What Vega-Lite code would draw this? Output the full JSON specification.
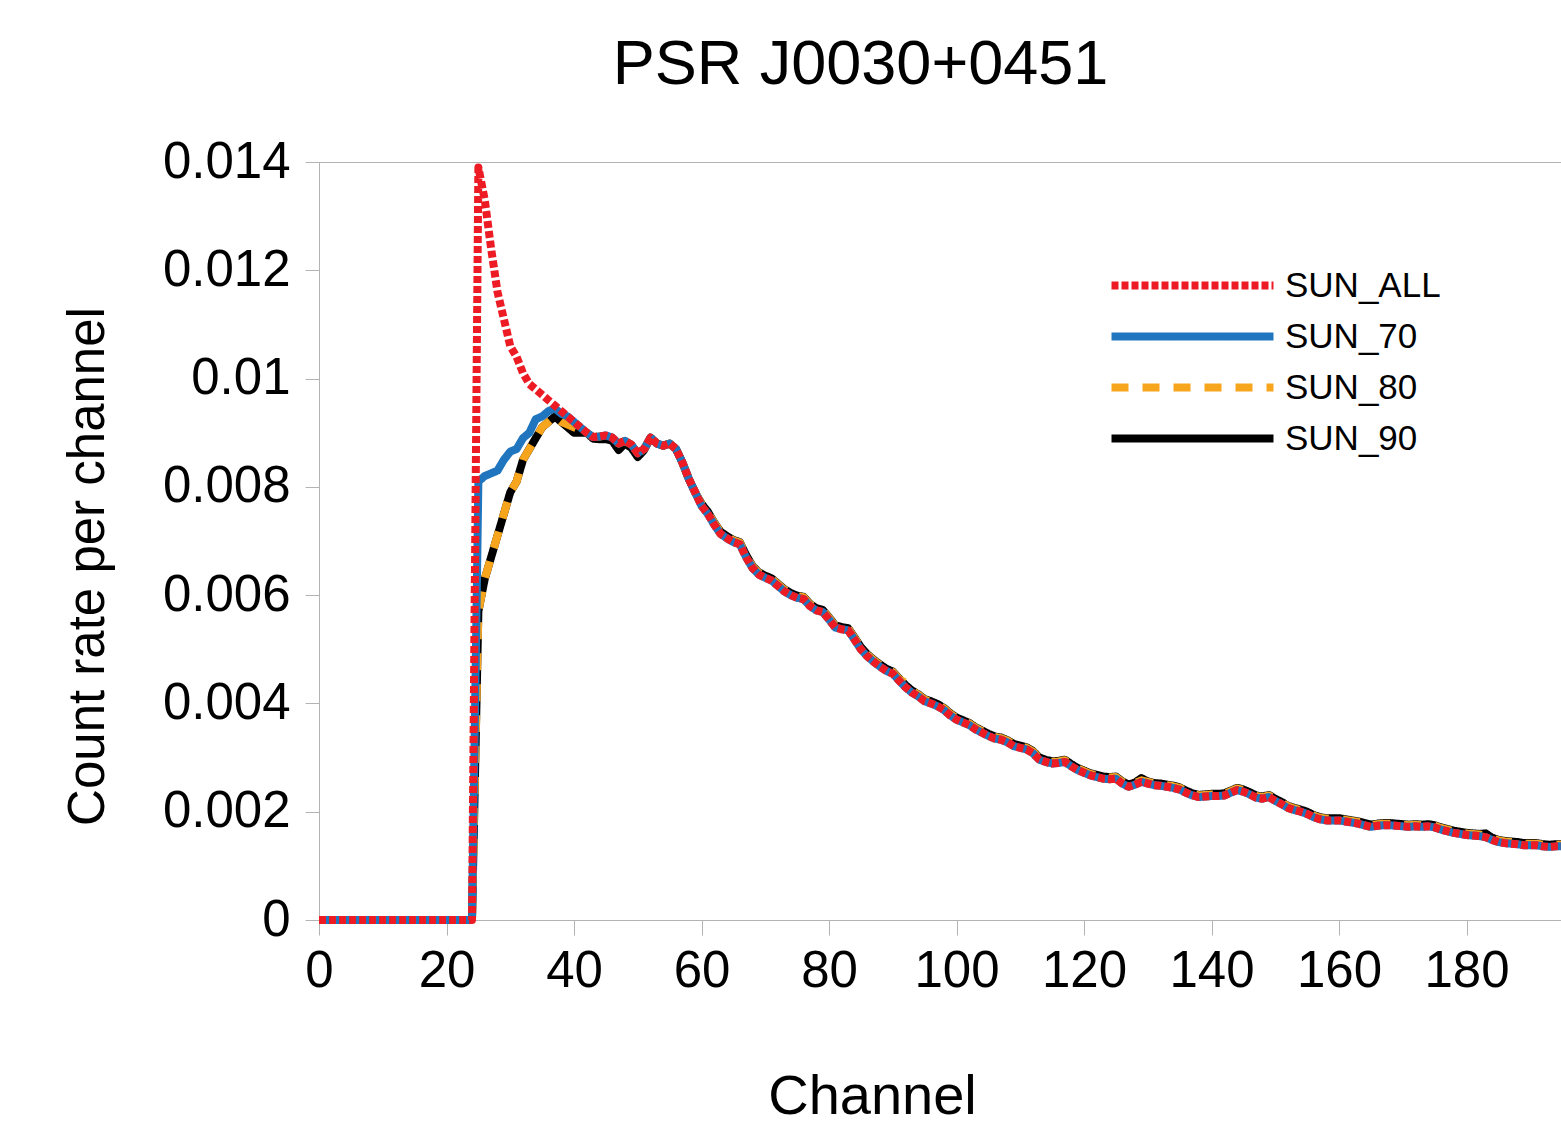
{
  "$schema": "https://vega.github.io/schema/vega-lite/v6.json",
  "width": 1275,
  "height": 758,
  "autosize": {"type": "none"},
  "padding": {"left": 319, "top": 162, "right": 0, "bottom": 215},
  "background": "white",
  "title": {
    "text": "PSR J0030+0451",
    "font": "Liberation Sans",
    "fontSize": 63,
    "fontWeight": "normal",
    "color": "#000000",
    "anchor": "middle",
    "frame": "group",
    "baseline": "alphabetic",
    "dx": -96,
    "offset": -11
  },
  "data": {
    "values": [
      {"Channel": 0, "SUN_ALL": 0, "SUN_70": 0, "SUN_80": 0, "SUN_90": 0},
      {"Channel": 24, "SUN_ALL": 0, "SUN_70": 0, "SUN_80": 0, "SUN_90": 0},
      {"Channel": 25, "SUN_ALL": 0.0139, "SUN_70": 0.0081, "SUN_80": 0.0057, "SUN_90": 0.0057},
      {"Channel": 26, "SUN_ALL": 0.0133, "SUN_70": 0.0082, "SUN_80": 0.0063, "SUN_90": 0.0063},
      {"Channel": 27, "SUN_ALL": 0.0124, "SUN_70": 0.00825, "SUN_80": 0.0067, "SUN_90": 0.0067},
      {"Channel": 28, "SUN_ALL": 0.0116, "SUN_70": 0.0083, "SUN_80": 0.0071, "SUN_90": 0.0071},
      {"Channel": 29, "SUN_ALL": 0.0111, "SUN_70": 0.0085, "SUN_80": 0.0075, "SUN_90": 0.0075},
      {"Channel": 30, "SUN_ALL": 0.0106, "SUN_70": 0.00865, "SUN_80": 0.0079, "SUN_90": 0.0079},
      {"Channel": 31, "SUN_ALL": 0.0104, "SUN_70": 0.0087, "SUN_80": 0.0081, "SUN_90": 0.0081},
      {"Channel": 32, "SUN_ALL": 0.0101, "SUN_70": 0.0089, "SUN_80": 0.0085, "SUN_90": 0.0085},
      {"Channel": 33, "SUN_ALL": 0.0099, "SUN_70": 0.009, "SUN_80": 0.0087, "SUN_90": 0.0087},
      {"Channel": 34, "SUN_ALL": 0.0098, "SUN_70": 0.00925, "SUN_80": 0.0089, "SUN_90": 0.0089},
      {"Channel": 35, "SUN_ALL": 0.0097, "SUN_70": 0.0093, "SUN_80": 0.0091, "SUN_90": 0.0091},
      {"Channel": 36, "SUN_ALL": 0.0096, "SUN_70": 0.0094, "SUN_80": 0.0092, "SUN_90": 0.0092},
      {"Channel": 37, "SUN_ALL": 0.0095, "SUN_70": 0.00945, "SUN_80": 0.0093, "SUN_90": 0.0093},
      {"Channel": 38, "SUN_ALL": 0.0094, "SUN_70": 0.00935, "SUN_80": 0.0092, "SUN_90": 0.0092},
      {"Channel": 39, "SUN_ALL": 0.0093, "SUN_70": 0.0093, "SUN_80": 0.00915, "SUN_90": 0.0091},
      {"Channel": 40, "SUN_ALL": 0.0092, "SUN_70": 0.0092, "SUN_80": 0.0091, "SUN_90": 0.009},
      {"Channel": 41, "SUN_ALL": 0.0091, "SUN_70": 0.0091, "SUN_80": 0.00905, "SUN_90": 0.009},
      {"Channel": 42, "SUN_ALL": 0.009, "SUN_70": 0.009, "SUN_80": 0.009, "SUN_90": 0.009},
      {"Channel": 43, "SUN_ALL": 0.00892, "SUN_70": 0.00892, "SUN_80": 0.00892, "SUN_90": 0.00889},
      {"Channel": 44, "SUN_ALL": 0.00893, "SUN_70": 0.00893, "SUN_80": 0.00893, "SUN_90": 0.00888},
      {"Channel": 45, "SUN_ALL": 0.00895, "SUN_70": 0.00895, "SUN_80": 0.00895, "SUN_90": 0.00888},
      {"Channel": 46, "SUN_ALL": 0.00891, "SUN_70": 0.00891, "SUN_80": 0.00891, "SUN_90": 0.00885},
      {"Channel": 47, "SUN_ALL": 0.0088, "SUN_70": 0.0088, "SUN_80": 0.0088, "SUN_90": 0.00868},
      {"Channel": 48, "SUN_ALL": 0.00885, "SUN_70": 0.00885, "SUN_80": 0.00885, "SUN_90": 0.0088},
      {"Channel": 49, "SUN_ALL": 0.00878, "SUN_70": 0.00878, "SUN_80": 0.00878, "SUN_90": 0.00872},
      {"Channel": 50, "SUN_ALL": 0.00862, "SUN_70": 0.00862, "SUN_80": 0.00862, "SUN_90": 0.00855},
      {"Channel": 51, "SUN_ALL": 0.0087, "SUN_70": 0.0087, "SUN_80": 0.0087, "SUN_90": 0.00868},
      {"Channel": 52, "SUN_ALL": 0.00891, "SUN_70": 0.00891, "SUN_80": 0.00891, "SUN_90": 0.00891},
      {"Channel": 53, "SUN_ALL": 0.0088, "SUN_70": 0.0088, "SUN_80": 0.0088, "SUN_90": 0.0088},
      {"Channel": 54, "SUN_ALL": 0.00876, "SUN_70": 0.00876, "SUN_80": 0.00876, "SUN_90": 0.00876},
      {"Channel": 55, "SUN_ALL": 0.0088, "SUN_70": 0.0088, "SUN_80": 0.0088, "SUN_90": 0.0088},
      {"Channel": 56, "SUN_ALL": 0.0087, "SUN_70": 0.0087, "SUN_80": 0.0087, "SUN_90": 0.0087},
      {"Channel": 57, "SUN_ALL": 0.00845, "SUN_70": 0.00845, "SUN_80": 0.00845, "SUN_90": 0.00845},
      {"Channel": 58, "SUN_ALL": 0.00815, "SUN_70": 0.00815, "SUN_80": 0.00815, "SUN_90": 0.00815},
      {"Channel": 59, "SUN_ALL": 0.0079, "SUN_70": 0.0079, "SUN_80": 0.0079, "SUN_90": 0.0079},
      {"Channel": 60, "SUN_ALL": 0.00765, "SUN_70": 0.00765, "SUN_80": 0.00768, "SUN_90": 0.00769},
      {"Channel": 61, "SUN_ALL": 0.0075, "SUN_70": 0.0075, "SUN_80": 0.00753, "SUN_90": 0.00754},
      {"Channel": 62, "SUN_ALL": 0.0073, "SUN_70": 0.0073, "SUN_80": 0.00733, "SUN_90": 0.00734},
      {"Channel": 63, "SUN_ALL": 0.00713, "SUN_70": 0.00713, "SUN_80": 0.00716, "SUN_90": 0.00717},
      {"Channel": 64, "SUN_ALL": 0.00705, "SUN_70": 0.00705, "SUN_80": 0.00708, "SUN_90": 0.00709},
      {"Channel": 65, "SUN_ALL": 0.00698, "SUN_70": 0.00698, "SUN_80": 0.00701, "SUN_90": 0.00702},
      {"Channel": 66, "SUN_ALL": 0.00694, "SUN_70": 0.00694, "SUN_80": 0.00697, "SUN_90": 0.00698},
      {"Channel": 67, "SUN_ALL": 0.0067, "SUN_70": 0.0067, "SUN_80": 0.00673, "SUN_90": 0.00674},
      {"Channel": 68, "SUN_ALL": 0.0065, "SUN_70": 0.0065, "SUN_80": 0.00653, "SUN_90": 0.00654},
      {"Channel": 69, "SUN_ALL": 0.00638, "SUN_70": 0.00638, "SUN_80": 0.00641, "SUN_90": 0.00642},
      {"Channel": 70, "SUN_ALL": 0.00632, "SUN_70": 0.00632, "SUN_80": 0.00635, "SUN_90": 0.00636},
      {"Channel": 71, "SUN_ALL": 0.00627, "SUN_70": 0.00627, "SUN_80": 0.0063, "SUN_90": 0.00631},
      {"Channel": 72, "SUN_ALL": 0.00617, "SUN_70": 0.00617, "SUN_80": 0.0062, "SUN_90": 0.00621},
      {"Channel": 73, "SUN_ALL": 0.00607, "SUN_70": 0.00607, "SUN_80": 0.0061, "SUN_90": 0.00611},
      {"Channel": 74, "SUN_ALL": 0.006, "SUN_70": 0.006, "SUN_80": 0.00603, "SUN_90": 0.00604},
      {"Channel": 75, "SUN_ALL": 0.00595, "SUN_70": 0.00595, "SUN_80": 0.00598, "SUN_90": 0.00599},
      {"Channel": 76, "SUN_ALL": 0.00593, "SUN_70": 0.00593, "SUN_80": 0.00596, "SUN_90": 0.00597},
      {"Channel": 77, "SUN_ALL": 0.0058, "SUN_70": 0.0058, "SUN_80": 0.00583, "SUN_90": 0.00584},
      {"Channel": 78, "SUN_ALL": 0.00572, "SUN_70": 0.00572, "SUN_80": 0.00575, "SUN_90": 0.00576},
      {"Channel": 79, "SUN_ALL": 0.00569, "SUN_70": 0.00569, "SUN_80": 0.00572, "SUN_90": 0.00573},
      {"Channel": 80, "SUN_ALL": 0.00555, "SUN_70": 0.00555, "SUN_80": 0.00558, "SUN_90": 0.00559},
      {"Channel": 81, "SUN_ALL": 0.0054, "SUN_70": 0.0054, "SUN_80": 0.00543, "SUN_90": 0.00544},
      {"Channel": 82, "SUN_ALL": 0.00537, "SUN_70": 0.00537, "SUN_80": 0.0054, "SUN_90": 0.00541},
      {"Channel": 83, "SUN_ALL": 0.00535, "SUN_70": 0.00535, "SUN_80": 0.00538, "SUN_90": 0.00539},
      {"Channel": 84, "SUN_ALL": 0.00518, "SUN_70": 0.00518, "SUN_80": 0.00521, "SUN_90": 0.00522},
      {"Channel": 85, "SUN_ALL": 0.005, "SUN_70": 0.005, "SUN_80": 0.00503, "SUN_90": 0.00504},
      {"Channel": 86, "SUN_ALL": 0.00487, "SUN_70": 0.00487, "SUN_80": 0.0049, "SUN_90": 0.00491},
      {"Channel": 87, "SUN_ALL": 0.00477, "SUN_70": 0.00477, "SUN_80": 0.0048, "SUN_90": 0.00481},
      {"Channel": 88, "SUN_ALL": 0.00468, "SUN_70": 0.00468, "SUN_80": 0.00471, "SUN_90": 0.00472},
      {"Channel": 89, "SUN_ALL": 0.0046, "SUN_70": 0.0046, "SUN_80": 0.00463, "SUN_90": 0.00464},
      {"Channel": 90, "SUN_ALL": 0.00455, "SUN_70": 0.00455, "SUN_80": 0.00458, "SUN_90": 0.00459},
      {"Channel": 91, "SUN_ALL": 0.00442, "SUN_70": 0.00442, "SUN_80": 0.00445, "SUN_90": 0.00446},
      {"Channel": 92, "SUN_ALL": 0.0043, "SUN_70": 0.0043, "SUN_80": 0.00438, "SUN_90": 0.00434},
      {"Channel": 93, "SUN_ALL": 0.0042, "SUN_70": 0.0042, "SUN_80": 0.00423, "SUN_90": 0.00424},
      {"Channel": 94, "SUN_ALL": 0.00413, "SUN_70": 0.00413, "SUN_80": 0.00416, "SUN_90": 0.00417},
      {"Channel": 95, "SUN_ALL": 0.00404, "SUN_70": 0.00404, "SUN_80": 0.00407, "SUN_90": 0.00408},
      {"Channel": 96, "SUN_ALL": 0.004, "SUN_70": 0.004, "SUN_80": 0.00403, "SUN_90": 0.00404},
      {"Channel": 97, "SUN_ALL": 0.00395, "SUN_70": 0.00395, "SUN_80": 0.00398, "SUN_90": 0.00399},
      {"Channel": 98, "SUN_ALL": 0.00388, "SUN_70": 0.00388, "SUN_80": 0.00391, "SUN_90": 0.00392},
      {"Channel": 99, "SUN_ALL": 0.00378, "SUN_70": 0.00378, "SUN_80": 0.00381, "SUN_90": 0.00382},
      {"Channel": 100, "SUN_ALL": 0.0037, "SUN_70": 0.0037, "SUN_80": 0.00373, "SUN_90": 0.00374},
      {"Channel": 101, "SUN_ALL": 0.00365, "SUN_70": 0.00365, "SUN_80": 0.00368, "SUN_90": 0.00369},
      {"Channel": 102, "SUN_ALL": 0.0036, "SUN_70": 0.0036, "SUN_80": 0.00363, "SUN_90": 0.00364},
      {"Channel": 103, "SUN_ALL": 0.00352, "SUN_70": 0.00352, "SUN_80": 0.00355, "SUN_90": 0.00356},
      {"Channel": 104, "SUN_ALL": 0.00346, "SUN_70": 0.00346, "SUN_80": 0.00349, "SUN_90": 0.0035},
      {"Channel": 105, "SUN_ALL": 0.0034, "SUN_70": 0.0034, "SUN_80": 0.00343, "SUN_90": 0.00344},
      {"Channel": 106, "SUN_ALL": 0.00335, "SUN_70": 0.00335, "SUN_80": 0.00338, "SUN_90": 0.00339},
      {"Channel": 107, "SUN_ALL": 0.00333, "SUN_70": 0.00333, "SUN_80": 0.00336, "SUN_90": 0.00337},
      {"Channel": 108, "SUN_ALL": 0.00328, "SUN_70": 0.00328, "SUN_80": 0.00331, "SUN_90": 0.00332},
      {"Channel": 109, "SUN_ALL": 0.00321, "SUN_70": 0.00321, "SUN_80": 0.00324, "SUN_90": 0.00325},
      {"Channel": 110, "SUN_ALL": 0.00318, "SUN_70": 0.00318, "SUN_80": 0.00321, "SUN_90": 0.00322},
      {"Channel": 111, "SUN_ALL": 0.00315, "SUN_70": 0.00315, "SUN_80": 0.00318, "SUN_90": 0.00319},
      {"Channel": 112, "SUN_ALL": 0.00308, "SUN_70": 0.00308, "SUN_80": 0.00311, "SUN_90": 0.00312},
      {"Channel": 113, "SUN_ALL": 0.00296, "SUN_70": 0.00296, "SUN_80": 0.00299, "SUN_90": 0.003},
      {"Channel": 114, "SUN_ALL": 0.00292, "SUN_70": 0.00292, "SUN_80": 0.00295, "SUN_90": 0.00296},
      {"Channel": 115, "SUN_ALL": 0.00289, "SUN_70": 0.00289, "SUN_80": 0.00292, "SUN_90": 0.00293},
      {"Channel": 116, "SUN_ALL": 0.0029, "SUN_70": 0.0029, "SUN_80": 0.00293, "SUN_90": 0.00294},
      {"Channel": 117, "SUN_ALL": 0.00292, "SUN_70": 0.00292, "SUN_80": 0.00295, "SUN_90": 0.00296},
      {"Channel": 118, "SUN_ALL": 0.00284, "SUN_70": 0.00284, "SUN_80": 0.00287, "SUN_90": 0.00288},
      {"Channel": 119, "SUN_ALL": 0.00277, "SUN_70": 0.00277, "SUN_80": 0.0028, "SUN_90": 0.00281},
      {"Channel": 120, "SUN_ALL": 0.00272, "SUN_70": 0.00272, "SUN_80": 0.00275, "SUN_90": 0.00276},
      {"Channel": 121, "SUN_ALL": 0.00267, "SUN_70": 0.00267, "SUN_80": 0.0027, "SUN_90": 0.00271},
      {"Channel": 122, "SUN_ALL": 0.00264, "SUN_70": 0.00264, "SUN_80": 0.00267, "SUN_90": 0.00268},
      {"Channel": 123, "SUN_ALL": 0.00261, "SUN_70": 0.00261, "SUN_80": 0.00264, "SUN_90": 0.00265},
      {"Channel": 124, "SUN_ALL": 0.0026, "SUN_70": 0.0026, "SUN_80": 0.00263, "SUN_90": 0.00264},
      {"Channel": 125, "SUN_ALL": 0.00261, "SUN_70": 0.00261, "SUN_80": 0.00264, "SUN_90": 0.00265},
      {"Channel": 126, "SUN_ALL": 0.00252, "SUN_70": 0.00252, "SUN_80": 0.00255, "SUN_90": 0.00256},
      {"Channel": 127, "SUN_ALL": 0.00246, "SUN_70": 0.00246, "SUN_80": 0.00249, "SUN_90": 0.0025},
      {"Channel": 128, "SUN_ALL": 0.0025, "SUN_70": 0.0025, "SUN_80": 0.00253, "SUN_90": 0.00254},
      {"Channel": 129, "SUN_ALL": 0.00255, "SUN_70": 0.00255, "SUN_80": 0.00258, "SUN_90": 0.00262},
      {"Channel": 130, "SUN_ALL": 0.00252, "SUN_70": 0.00252, "SUN_80": 0.00255, "SUN_90": 0.00256},
      {"Channel": 131, "SUN_ALL": 0.00249, "SUN_70": 0.00249, "SUN_80": 0.00252, "SUN_90": 0.00253},
      {"Channel": 132, "SUN_ALL": 0.00248, "SUN_70": 0.00248, "SUN_80": 0.00251, "SUN_90": 0.00252},
      {"Channel": 133, "SUN_ALL": 0.00246, "SUN_70": 0.00246, "SUN_80": 0.00249, "SUN_90": 0.0025},
      {"Channel": 134, "SUN_ALL": 0.00244, "SUN_70": 0.00244, "SUN_80": 0.00247, "SUN_90": 0.00248},
      {"Channel": 135, "SUN_ALL": 0.00241, "SUN_70": 0.00241, "SUN_80": 0.00244, "SUN_90": 0.00245},
      {"Channel": 136, "SUN_ALL": 0.00235, "SUN_70": 0.00235, "SUN_80": 0.00238, "SUN_90": 0.00239},
      {"Channel": 137, "SUN_ALL": 0.0023, "SUN_70": 0.0023, "SUN_80": 0.00233, "SUN_90": 0.00234},
      {"Channel": 138, "SUN_ALL": 0.00227, "SUN_70": 0.00227, "SUN_80": 0.0023, "SUN_90": 0.00231},
      {"Channel": 139, "SUN_ALL": 0.00228, "SUN_70": 0.00228, "SUN_80": 0.00231, "SUN_90": 0.00232},
      {"Channel": 140, "SUN_ALL": 0.00229, "SUN_70": 0.00229, "SUN_80": 0.00232, "SUN_90": 0.00233},
      {"Channel": 141, "SUN_ALL": 0.00229, "SUN_70": 0.00229, "SUN_80": 0.00232, "SUN_90": 0.00233},
      {"Channel": 142, "SUN_ALL": 0.0023, "SUN_70": 0.0023, "SUN_80": 0.00233, "SUN_90": 0.00234},
      {"Channel": 143, "SUN_ALL": 0.00235, "SUN_70": 0.00235, "SUN_80": 0.00238, "SUN_90": 0.00239},
      {"Channel": 144, "SUN_ALL": 0.0024, "SUN_70": 0.0024, "SUN_80": 0.00243, "SUN_90": 0.00244},
      {"Channel": 145, "SUN_ALL": 0.00237, "SUN_70": 0.00237, "SUN_80": 0.0024, "SUN_90": 0.00241},
      {"Channel": 146, "SUN_ALL": 0.00232, "SUN_70": 0.00232, "SUN_80": 0.00235, "SUN_90": 0.00236},
      {"Channel": 147, "SUN_ALL": 0.00226, "SUN_70": 0.00226, "SUN_80": 0.00229, "SUN_90": 0.0023},
      {"Channel": 148, "SUN_ALL": 0.00224, "SUN_70": 0.00224, "SUN_80": 0.00227, "SUN_90": 0.00228},
      {"Channel": 149, "SUN_ALL": 0.00227, "SUN_70": 0.00227, "SUN_80": 0.0023, "SUN_90": 0.00231},
      {"Channel": 150, "SUN_ALL": 0.0022, "SUN_70": 0.0022, "SUN_80": 0.00223, "SUN_90": 0.00224},
      {"Channel": 151, "SUN_ALL": 0.00214, "SUN_70": 0.00214, "SUN_80": 0.00217, "SUN_90": 0.00218},
      {"Channel": 152, "SUN_ALL": 0.00207, "SUN_70": 0.00207, "SUN_80": 0.0021, "SUN_90": 0.00211},
      {"Channel": 153, "SUN_ALL": 0.00203, "SUN_70": 0.00203, "SUN_80": 0.00206, "SUN_90": 0.00207},
      {"Channel": 154, "SUN_ALL": 0.002, "SUN_70": 0.002, "SUN_80": 0.00203, "SUN_90": 0.00204},
      {"Channel": 155, "SUN_ALL": 0.00196, "SUN_70": 0.00196, "SUN_80": 0.00199, "SUN_90": 0.002},
      {"Channel": 156, "SUN_ALL": 0.0019, "SUN_70": 0.0019, "SUN_80": 0.00193, "SUN_90": 0.00194},
      {"Channel": 157, "SUN_ALL": 0.00186, "SUN_70": 0.00186, "SUN_80": 0.00189, "SUN_90": 0.0019},
      {"Channel": 158, "SUN_ALL": 0.00184, "SUN_70": 0.00184, "SUN_80": 0.00187, "SUN_90": 0.00188},
      {"Channel": 159, "SUN_ALL": 0.00184, "SUN_70": 0.00184, "SUN_80": 0.00187, "SUN_90": 0.00188},
      {"Channel": 160, "SUN_ALL": 0.00184, "SUN_70": 0.00184, "SUN_80": 0.00187, "SUN_90": 0.00188},
      {"Channel": 161, "SUN_ALL": 0.00182, "SUN_70": 0.00182, "SUN_80": 0.00185, "SUN_90": 0.00186},
      {"Channel": 162, "SUN_ALL": 0.0018, "SUN_70": 0.0018, "SUN_80": 0.00183, "SUN_90": 0.00184},
      {"Channel": 163, "SUN_ALL": 0.00178, "SUN_70": 0.00178, "SUN_80": 0.00181, "SUN_90": 0.00182},
      {"Channel": 164, "SUN_ALL": 0.00175, "SUN_70": 0.00175, "SUN_80": 0.00178, "SUN_90": 0.00179},
      {"Channel": 165, "SUN_ALL": 0.00172, "SUN_70": 0.00172, "SUN_80": 0.00175, "SUN_90": 0.00176},
      {"Channel": 166, "SUN_ALL": 0.00174, "SUN_70": 0.00174, "SUN_80": 0.00177, "SUN_90": 0.00178},
      {"Channel": 167, "SUN_ALL": 0.00175, "SUN_70": 0.00175, "SUN_80": 0.00178, "SUN_90": 0.00179},
      {"Channel": 168, "SUN_ALL": 0.00175, "SUN_70": 0.00175, "SUN_80": 0.00178, "SUN_90": 0.00179},
      {"Channel": 169, "SUN_ALL": 0.00174, "SUN_70": 0.00174, "SUN_80": 0.00177, "SUN_90": 0.00178},
      {"Channel": 170, "SUN_ALL": 0.00173, "SUN_70": 0.00173, "SUN_80": 0.00176, "SUN_90": 0.00177},
      {"Channel": 171, "SUN_ALL": 0.00172, "SUN_70": 0.00172, "SUN_80": 0.00175, "SUN_90": 0.00176},
      {"Channel": 172, "SUN_ALL": 0.00173, "SUN_70": 0.00173, "SUN_80": 0.00176, "SUN_90": 0.00177},
      {"Channel": 173, "SUN_ALL": 0.00172, "SUN_70": 0.00172, "SUN_80": 0.00175, "SUN_90": 0.00176},
      {"Channel": 174, "SUN_ALL": 0.00173, "SUN_70": 0.00173, "SUN_80": 0.00176, "SUN_90": 0.00177},
      {"Channel": 175, "SUN_ALL": 0.00171, "SUN_70": 0.00171, "SUN_80": 0.00174, "SUN_90": 0.00175},
      {"Channel": 176, "SUN_ALL": 0.00167, "SUN_70": 0.00167, "SUN_80": 0.0017, "SUN_90": 0.00171},
      {"Channel": 177, "SUN_ALL": 0.00164, "SUN_70": 0.00164, "SUN_80": 0.00167, "SUN_90": 0.00168},
      {"Channel": 178, "SUN_ALL": 0.00161, "SUN_70": 0.00161, "SUN_80": 0.00164, "SUN_90": 0.00165},
      {"Channel": 179, "SUN_ALL": 0.00159, "SUN_70": 0.00159, "SUN_80": 0.00162, "SUN_90": 0.00163},
      {"Channel": 180, "SUN_ALL": 0.00157, "SUN_70": 0.00157, "SUN_80": 0.0016, "SUN_90": 0.00161},
      {"Channel": 181, "SUN_ALL": 0.00156, "SUN_70": 0.00156, "SUN_80": 0.00159, "SUN_90": 0.0016},
      {"Channel": 182, "SUN_ALL": 0.00155, "SUN_70": 0.00155, "SUN_80": 0.00158, "SUN_90": 0.00159},
      {"Channel": 183, "SUN_ALL": 0.00153, "SUN_70": 0.00153, "SUN_80": 0.00156, "SUN_90": 0.0016},
      {"Channel": 184, "SUN_ALL": 0.00148, "SUN_70": 0.00148, "SUN_80": 0.00151, "SUN_90": 0.00152},
      {"Channel": 185, "SUN_ALL": 0.00144, "SUN_70": 0.00144, "SUN_80": 0.00147, "SUN_90": 0.00148},
      {"Channel": 186, "SUN_ALL": 0.00142, "SUN_70": 0.00142, "SUN_80": 0.00145, "SUN_90": 0.00146},
      {"Channel": 187, "SUN_ALL": 0.00141, "SUN_70": 0.00141, "SUN_80": 0.00144, "SUN_90": 0.00145},
      {"Channel": 188, "SUN_ALL": 0.0014, "SUN_70": 0.0014, "SUN_80": 0.00143, "SUN_90": 0.00144},
      {"Channel": 189, "SUN_ALL": 0.00138, "SUN_70": 0.00138, "SUN_80": 0.00141, "SUN_90": 0.00142},
      {"Channel": 190, "SUN_ALL": 0.00138, "SUN_70": 0.00138, "SUN_80": 0.00141, "SUN_90": 0.00142},
      {"Channel": 191, "SUN_ALL": 0.00138, "SUN_70": 0.00138, "SUN_80": 0.00141, "SUN_90": 0.00142},
      {"Channel": 192, "SUN_ALL": 0.00136, "SUN_70": 0.00136, "SUN_80": 0.00139, "SUN_90": 0.0014},
      {"Channel": 193, "SUN_ALL": 0.00135, "SUN_70": 0.00135, "SUN_80": 0.00138, "SUN_90": 0.00139},
      {"Channel": 194, "SUN_ALL": 0.00136, "SUN_70": 0.00136, "SUN_80": 0.00139, "SUN_90": 0.0014},
      {"Channel": 195, "SUN_ALL": 0.00136, "SUN_70": 0.00136, "SUN_80": 0.00139, "SUN_90": 0.0014},
      {"Channel": 196, "SUN_ALL": 0.00135, "SUN_70": 0.00135, "SUN_80": 0.00138, "SUN_90": 0.00139}
    ]
  },
  "transform": [
    {"fold": ["SUN_90", "SUN_80", "SUN_70", "SUN_ALL"], "as": ["series", "rate"]}
  ],
  "encoding": {
    "x": {
      "field": "Channel",
      "type": "quantitative",
      "scale": {"domain": [0, 200], "nice": false, "zero": false},
      "axis": {
        "title": "Channel",
        "values": [0, 20, 40, 60, 80, 100, 120, 140, 160, 180],
        "format": "d",
        "tickSize": 15,
        "labelPadding": 11,
        "labelOverlap": false,
        "labelFlush": false,
        "titleFontSize": 56,
        "titleX": 553,
        "titleY": 193,
        "titleAlign": "center",
        "titleBaseline": "alphabetic"
      }
    },
    "y": {
      "field": "rate",
      "type": "quantitative",
      "scale": {"domain": [0, 0.014], "nice": false, "zero": true},
      "axis": {
        "title": "Count rate per channel",
        "values": [0, 0.002, 0.004, 0.006, 0.008, 0.01, 0.012, 0.014],
        "format": ".3~f",
        "tickSize": 14,
        "labelPadding": 15,
        "labelOverlap": false,
        "labelFlush": false,
        "titleFontSize": 51,
        "titleAngle": -90,
        "titleX": -216,
        "titleY": 404,
        "titleAlign": "center",
        "titleBaseline": "alphabetic"
      }
    },
    "color": {
      "field": "series",
      "type": "nominal",
      "scale": {
        "domain": ["SUN_ALL", "SUN_70", "SUN_80", "SUN_90"],
        "range": ["#ed1c24", "#1f75be", "#f7a51d", "#000000"]
      },
      "legend": {
        "title": null,
        "orient": "none",
        "legendX": 856,
        "legendY": 106
      }
    },
    "strokeDash": {
      "field": "series",
      "type": "nominal",
      "scale": {
        "domain": ["SUN_ALL", "SUN_70", "SUN_80", "SUN_90"],
        "range": [[7, 3], [1, 0], [17, 14], [1, 0]]
      },
      "legend": {
        "title": null,
        "orient": "none",
        "legendX": 856,
        "legendY": 106
      }
    }
  },
  "layer": [
    {"transform": [{"filter": "datum.series === 'SUN_90'"}], "mark": {"type": "line", "strokeWidth": 8, "strokeCap": "butt", "strokeJoin": "round"}},
    {"transform": [{"filter": "datum.series === 'SUN_80'"}], "mark": {"type": "line", "strokeWidth": 8, "strokeCap": "butt", "strokeJoin": "round"}},
    {"transform": [{"filter": "datum.series === 'SUN_70'"}], "mark": {"type": "line", "strokeWidth": 8, "strokeCap": "butt", "strokeJoin": "round"}},
    {"transform": [{"filter": "datum.series === 'SUN_ALL'"}], "mark": {"type": "line", "strokeWidth": 8, "strokeCap": "butt", "strokeJoin": "round"}}
  ],
  "config": {
    "view": {"stroke": "#b3b3b3", "strokeWidth": 1},
    "axis": {
      "grid": false,
      "labelFont": "Liberation Sans",
      "labelFontSize": 51,
      "labelColor": "#000000",
      "titleFont": "Liberation Sans",
      "titleFontWeight": "normal",
      "titleColor": "#000000",
      "domainColor": "#b3b3b3",
      "tickColor": "#b3b3b3",
      "domainWidth": 1,
      "tickWidth": 1
    },
    "legend": {
      "labelFont": "Liberation Sans",
      "labelFontSize": 35,
      "labelColor": "#000000",
      "symbolType": "M-8,0H8",
      "symbolSize": 410,
      "symbolStrokeWidth": 8,
      "labelOffset": 75,
      "rowPadding": 15,
      "padding": 0,
      "labelLimit": 400
    }
  }
}
